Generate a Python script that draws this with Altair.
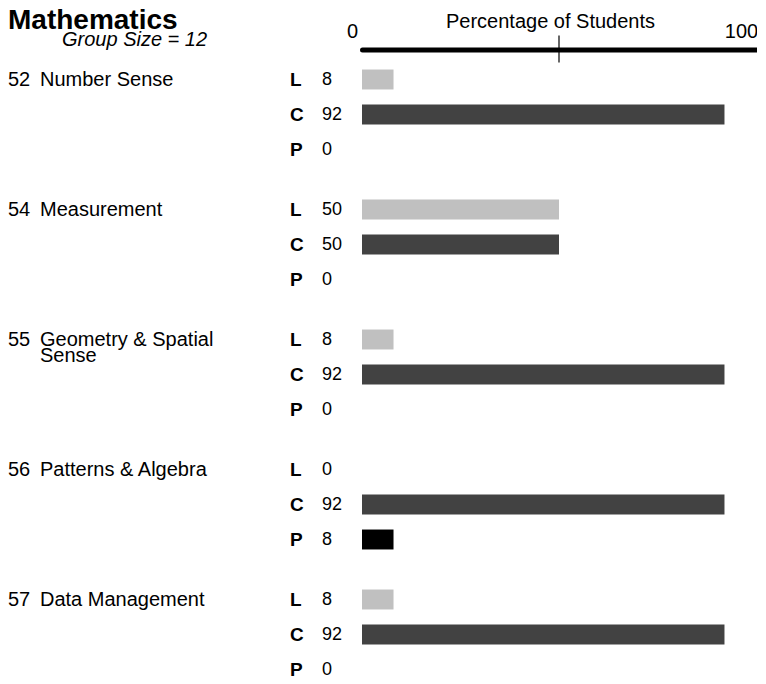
import altair as alt
import pandas as pd

# ---- data ----
nums = ["52", "54", "55", "56", "57"]
names = ["Number Sense", "Measurement", "Geometry & Spatial\nSense",
         "Patterns & Algebra", "Data Management"]
levels = ["L", "C", "P"]
l_values = [8, 50, 8, 0, 8]
c_values = [92, 50, 92, 92, 92]
p_values = [0, 0, 0, 8, 0]
level_colors = ["#c0c0c0", "#424242", "#000000"]
axis_labels_shown = [0, 100]
mid_tick = [50]
chart_title = "Mathematics"
group_size = "Group Size = 12"
x_title = "Percentage of Students"

rows = []
for i, (n, nm) in enumerate(zip(nums, names)):
    for lvl, vals in zip(levels, [l_values, c_values, p_values]):
        rows.append({"g": i, "num": n, "name": nm, "level": lvl,
                     "value": vals[i], "mid": mid_tick[0]})
df = pd.DataFrame(rows)

FONT = "Liberation Sans"
W = 394

y_enc = alt.Y("level:N", sort=levels, axis=None,
              scale=alt.Scale(domain=levels, paddingInner=0.43, paddingOuter=0.215))

x_enc = alt.X(
    "value:Q",
    scale=alt.Scale(domain=[0, 100], nice=False, zero=True),
    axis=alt.Axis(
        orient="top", values=axis_labels_shown, ticks=False, tickSize=0,
        domainWidth=5, domainCap="round", domainColor="black",
        labelFontSize=20, labelColor="black",
        labelOffset={"condition": {"test": "datum.value == 0", "value": -10}, "value": -15},
        labelPadding=8, labelFlush=False, labelAlign="center",
        labelFont=FONT, grid=False, offset=12.5,
        title=x_title, titleFontSize=20, titleFontWeight="normal",
        titleColor="black", titleFont=FONT, titleX=188, titleY=-22,
        titleAlign="center", titleBaseline="alphabetic",
    ),
)

bars = alt.Chart().mark_bar().encode(
    x=x_enc, y=y_enc,
    color=alt.Color("level:N", scale=alt.Scale(domain=levels, range=level_colors), legend=None),
)

first = (alt.datum.g == 0) & (alt.datum.level == "L")

tick = alt.Chart().transform_filter(first).mark_rule(color="black", strokeWidth=1.2).encode(
    x=alt.X("mid:Q"), y=alt.value(-26.5), y2=alt.value(0.5)
)

letters = alt.Chart().mark_text(
    align="left", baseline="middle", fontWeight="bold", fontSize=19, font=FONT, color="black"
).encode(y=y_enc, x=alt.value(-72), text="level:N")

vals = alt.Chart().mark_text(
    align="left", baseline="middle", fontSize=18, font=FONT, color="black"
).encode(y=y_enc, x=alt.value(-40), text="value:Q")

nums_t = alt.Chart().transform_filter(alt.datum.level == "L").mark_text(
    align="left", baseline="middle", fontSize=20, font=FONT, color="black"
).encode(y=y_enc, x=alt.value(-354), text="num:N")

names_t = alt.Chart().transform_filter(alt.datum.level == "L").mark_text(
    align="left", baseline="alphabetic", dy=6, lineBreak="\n", lineHeight=16,
    fontSize=20, font=FONT, color="black"
).encode(y=y_enc, x=alt.value(-322), text="name:N")

title_t = alt.Chart().transform_filter(first).mark_text(
    align="left", baseline="alphabetic", fontSize=28, fontWeight="bold", font=FONT, color="black"
).encode(x=alt.value(-354), y=alt.value(-33), text=alt.value(chart_title))

sub_t = alt.Chart().transform_filter(first).mark_text(
    align="left", baseline="alphabetic", fontSize=20, fontStyle="italic", font=FONT, color="black"
).encode(x=alt.value(-300), y=alt.value(-16.5), text=alt.value(group_size))

layer = alt.layer(bars, tick, letters, vals, nums_t, names_t, title_t, sub_t, data=df).properties(
    width=W, height=105
)

chart = layer.facet(
    row=alt.Row("g:O", title=None, header=alt.Header(labels=False)),
    spacing=25,
    bounds="flush",
).configure(font=FONT).configure_view(stroke=None).properties(
    padding={"left": 0, "top": -1, "right": -1, "bottom": -10.5}
)

chart.save("out.html", embed_options={"renderer": "svg", "actions": False})
